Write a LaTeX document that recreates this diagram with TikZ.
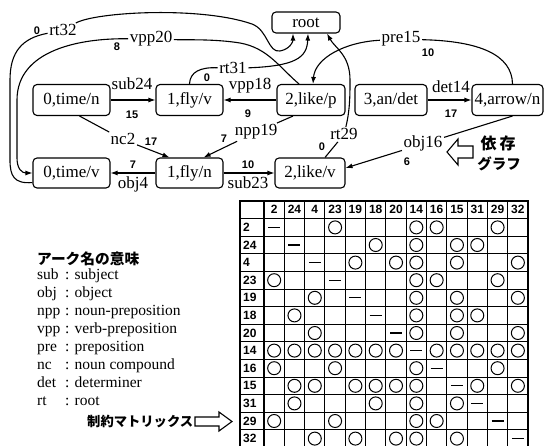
\documentclass[tikz,border=0pt]{standalone}
\usepackage{fontspec}
\setmainfont{Liberation Serif}
\newfontfamily\numfont{Liberation Sans}
\newfontfamily\jpfont{Noto Sans CJK JP}
\usetikzlibrary{arrows.meta,calc}
\begin{document}
\begin{tikzpicture}[x=1pt,y=-1pt,
  wbox/.style={draw, rounded corners=4pt, line width=1.1pt, minimum height=31pt, inner xsep=1pt, inner ysep=0pt, font=\fontsize{17}{20}\selectfont},
  elbl/.style={font=\fontsize{17}{20}\selectfont, inner sep=1.5pt},
  wnum/.style={font=\numfont\bfseries\fontsize{11}{13}\selectfont, inner sep=0pt},
  conn/.style={line width=1.1pt},
  arr/.style={conn, -{Latex[length=7pt,width=5pt]}},
  lgd/.style={font=\fontsize{15.5}{18}\selectfont, inner sep=0pt},
  jpb/.style={font=\jpfont\bfseries\fontsize{#1}{#1}\selectfont, inner sep=0pt},
  tnum/.style={font=\numfont\bfseries\fontsize{12}{14}\selectfont, inner sep=0pt},
  circmk/.style={draw, circle, minimum size=13pt, inner sep=0pt, line width=1pt},
  dashmk/.style={line width=1.3pt},
  hollow/.style={draw, line width=1.1pt, fill=white, line join=miter}
]
\useasboundingbox (0,0) rectangle (545,446);

% ---------- graph nodes ----------
\node[wbox, minimum width=68pt, minimum height=21pt] (root) at (306,22.5) {root};
\node[wbox, minimum width=77pt] (timen) at (71.5,100) {0,time/n};
\node[wbox, minimum width=67pt] (flyv) at (189.5,100) {1,fly/v};
\node[wbox, minimum width=68pt] (likep) at (311,100) {2,like/p};
\node[wbox, minimum width=72pt] (andet) at (391,100) {3,an/det};
\node[wbox, minimum width=71pt] (arrown) at (507.5,100) {4,arrow/n};
\node[wbox, minimum width=77pt, minimum height=30pt] (timev) at (71.5,173) {0,time/v};
\node[wbox, minimum width=67pt, minimum height=30pt] (flyn) at (189.5,173) {1,fly/n};
\node[wbox, minimum width=70pt, minimum height=30pt] (likev) at (310,173) {2,like/v};

% ---------- straight arcs ----------
\draw[arr] (timen) -- (flyv);
\draw[arr] (likep) -- (flyv);
\draw[arr] (andet) -- (arrown);
\draw[arr] (flyn) -- (timev);
\draw[arr] (flyn) -- (likev);

\node[elbl, anchor=base] (lsub24) at (132,90) {sub24};
\node[wnum] (n15) at (132,115) {15};
\node[elbl, anchor=base] (lvpp18) at (250,90) {vpp18};
\node[wnum] (n9) at (248,114) {9};
\node[elbl, anchor=base] (ldet14) at (451,93) {det14};
\node[wnum] (n17a) at (451,114) {17};
\node[wnum] (n7a) at (133,165) {7};
\node[elbl, anchor=base] (lobj4) at (133,189) {obj4};
\node[wnum] (n10a) at (248,165) {10};
\node[elbl, anchor=base] (lsub23) at (248,189) {sub23};

% ---------- broken arcs with labels ----------
\node[elbl, anchor=base] (lnc2) at (123,145) {nc2};
\node[wnum] (n17b) at (151,142) {17};
\draw[conn] ($(timen.south)+(8,0)$) -- (lnc2);
\draw[arr] (lnc2) -- ($(flyn.north west)+(14,0)$);

\node[elbl, anchor=base] (lnpp19) at (256,136) {npp19};
\node[wnum] (n7b) at (224,139) {7};
\draw[conn] ($(likep.south)+(-18,0)$) -- (lnpp19);
\draw[arr] (lnpp19) -- ($(flyn.north east)+(-20,0)$);

\node[elbl, anchor=base] (lrt29) at (344,140) {rt29};
\node[wnum] (n0c) at (322,147) {0};
\draw[conn] ($(likev.north)+(15,0)$) -- (lrt29);
\draw[arr] (lrt29) .. controls (350,110) and (350,95) .. (350,80) .. controls (350,55) and (335,48) .. ($(root.south)+(21,0)$);

\node[elbl, anchor=base] (lobj16) at (423,148) {obj16};
\node[wnum] (n6) at (407,162) {6};
\draw[conn] ($(arrown.south west)+(41,0)$) -- (lobj16);
\draw[arr] (lobj16) -- ($(likev.east)+(0,-5)$);

\node[elbl, anchor=base] (lrt32) at (63,36) {rt32};
\node[wnum] (n0a) at (37,31) {0};
\draw[conn] ($(timev.south west)+(0,-6)$) .. controls (14,184) and (10,176) .. (10,160) -- (10,80) .. controls (10,52) and (22,38) .. (lrt32);
\draw[arr] (lrt32) .. controls (95,12) and (200,6) .. (252,24) .. controls (268,30) and (268,53) .. (280,51) .. controls (290,49) and (293,42) .. ($(root.south)+(-13,0)$);

\node[elbl, anchor=base] (lvpp20) at (151,43) {vpp20};
\node[wnum] (n8) at (117,47) {8};
\draw[conn] ($(likep.north)+(-12,0)$) .. controls (280,68) and (268,48) .. (240,43) .. controls (215,39) and (190,40) .. (lvpp20);
\draw[arr] (lvpp20) .. controls (80,38) and (17,50) .. (17,100) -- (17,158) .. controls (17,169) and (22,173) .. (timev.west);

\node[elbl, anchor=base] (lrt31) at (233,74) {rt31};
\node[wnum] (n0b) at (207,78) {0};
\draw[conn] (flyv.north) .. controls (190,72) and (200,67) .. (lrt31);
\draw[arr] (lrt31) .. controls (295,66) and (307,58) .. ($(root.south)+(2,0)$);

\node[elbl, anchor=base] (lpre15) at (401,43) {pre15};
\node[wnum] (n10b) at (428,53) {10};
\draw[conn] ($(arrown.north)+(5,0)$) .. controls (512,55) and (480,41) .. (lpre15);
\draw[arr] (lpre15) .. controls (345,42) and (315,58) .. ($(likep.north)+(2,0)$);

% ---------- "dependency graph" label ----------
\draw[hollow] (447,152) -- (458,139) -- (458,146) -- (473,146) -- (473,158) -- (458,158) -- (458,165) -- cycle;
\node[jpb=16] (jp1) at (498,143) {依\hspace{3pt}存};
\node[jpb=14.5] (jp2) at (499,164) {グラフ};

% ---------- legend ----------
\node[jpb=14.7, anchor=west] (lgtitle) at (37,258.5) {アーク名の意味};
\foreach \ab/\de [count=\i] in {sub/subject, obj/object, npp/noun-preposition, vpp/verb-preposition, pre/preposition, nc/noun compound, det/determiner, rt/root} {
  \node[lgd, anchor=base west] (ab\i) at (37, {261+18*\i}) {\ab};
  \node[lgd, anchor=base west] (de\i) at (65, {261+18*\i}) {: \de};
}
\node[jpb=13.3, anchor=west] (cmx) at (87,421) {制約マトリックス};
\draw[hollow] (195,417) -- (219,417) -- (219,412) -- (232,421.5) -- (219,431) -- (219,426) -- (195,426) -- cycle;

% ---------- constraint matrix ----------
\foreach \r in {1,...,13} \draw[line width=0.9pt] (240,{201+\r*17.6}) -- (528,{201+\r*17.6});
\foreach \c in {1,...,12} \draw[line width=0.9pt] ({264+\c*20.31},201) -- ({264+\c*20.31},448);
\draw[line width=1.4pt] (264,201) -- (264,448);
\draw[line width=1.8pt] (240,448) -- (240,201) -- (528,201) -- (528,448);

\foreach \h [count=\c] in {2,24,4,23,19,18,20,14,16,15,31,29,32} {
  \node[tnum] (hc\c) at ({264+(\c-0.5)*20.31}, {201+0.5*17.6}) {\h};
  \node[tnum, anchor=west] (hr\c) at (243, {201+(\c+0.5)*17.6}) {\h};
}

\foreach \row [count=\r] in {
  {d,x,x,o,x,x,x,o,o,x,x,o,x},
  {x,d,x,x,x,o,x,o,x,o,o,x,x},
  {x,x,d,x,o,x,o,o,x,o,x,x,o},
  {o,x,x,d,x,x,x,o,o,x,x,o,x},
  {x,x,o,x,d,x,x,o,x,o,x,x,o},
  {x,o,x,x,x,d,x,o,x,o,o,x,x},
  {x,x,o,x,x,x,d,o,x,o,x,x,o},
  {o,o,o,o,o,o,o,d,o,o,o,o,o},
  {o,x,x,o,x,x,x,o,d,x,x,o,x},
  {x,o,o,x,o,o,o,o,x,d,o,x,o},
  {x,o,x,x,x,o,x,o,x,o,d,x,x},
  {o,x,x,o,x,x,x,o,o,x,x,d,x},
  {x,x,o,x,o,x,o,o,x,o,x,x,d}} {
  \foreach \m [count=\c] in \row {
    \if o\m
      \node[circmk] (m\r-\c) at ({264+(\c-0.5)*20.31}, {201+(\r+0.5)*17.6}) {};
    \fi
    \if d\m
      \draw[dashmk] ({264+(\c-0.5)*20.31-6}, {201+(\r+0.5)*17.6}) -- ({264+(\c-0.5)*20.31+6}, {201+(\r+0.5)*17.6});
    \fi
  }
}
\end{tikzpicture}
\end{document}
